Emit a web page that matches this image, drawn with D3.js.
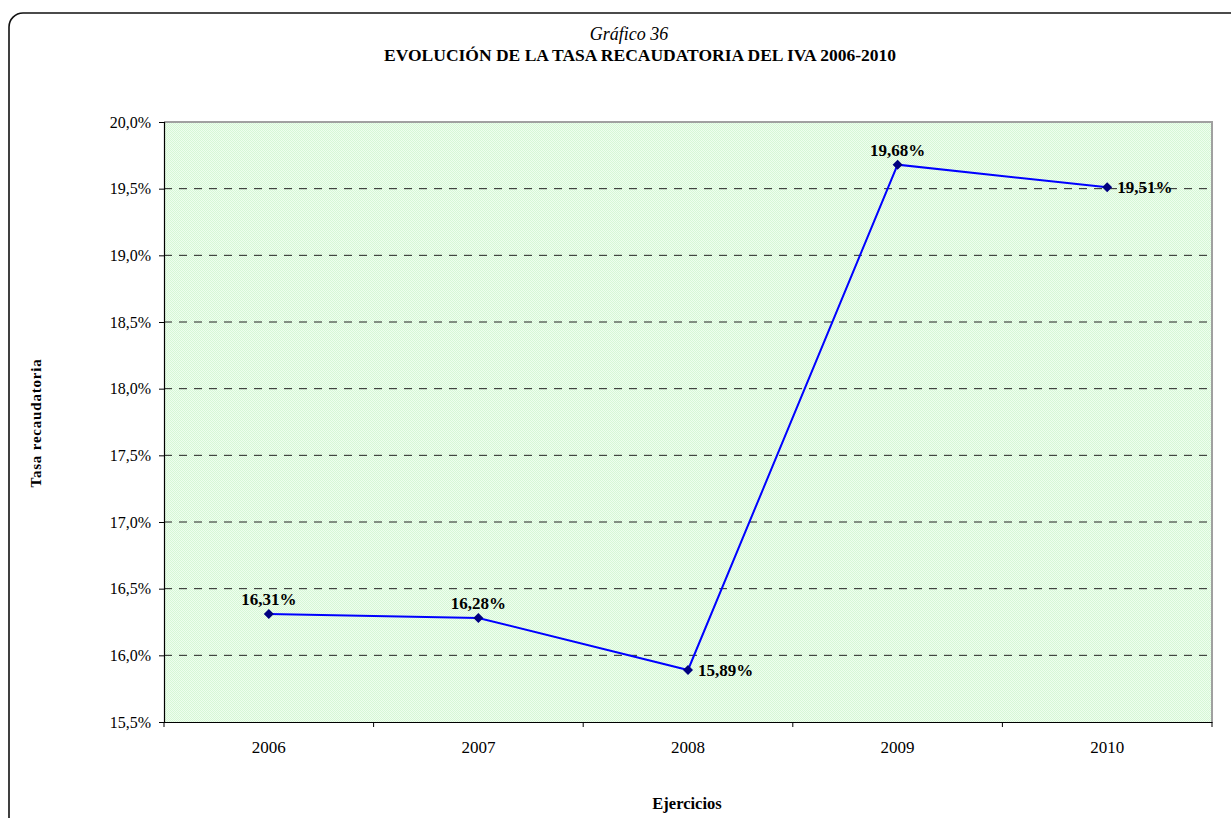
<!DOCTYPE html>
<html>
<head>
<meta charset="utf-8">
<script src="https://cdn.jsdelivr.net/npm/d3@7"></script>
<style>
  html, body { margin: 0; padding: 0; background: #fff; }
  svg { display: block; }
</style>
</head>
<body>
<svg id="chart" width="1231" height="818"></svg>
<script>
// Recaudación del IVA: tasa recaudatoria por ejercicio
const years = ["2006", "2007", "2008", "2009", "2010"];
const rates = [16.31, 16.28, 15.89, 19.68, 19.51];
const labelPlacement = ["above", "above", "right", "above", "right"];
const yTicks = [15.5, 16.0, 16.5, 17.0, 17.5, 18.0, 18.5, 19.0, 19.5, 20.0];

const svg = d3.select("#chart");
const font = "'Liberation Serif', 'Times New Roman', serif";

// Marco exterior redondeado
svg.append("rect")
  .attr("x", 9).attr("y", 13)
  .attr("width", 1250).attr("height", 840)
  .attr("rx", 14).attr("ry", 14)
  .attr("fill", "none").attr("stroke", "#111").attr("stroke-width", 1.6);

const plot = { left: 164, right: 1212, top: 122, bottom: 722 };

const x = d3.scaleBand().domain(years).range([plot.left, plot.right]).padding(0);
const y = d3.scaleLinear().domain([15.5, 20.0]).range([plot.bottom, plot.top]);

// Trama del área de trazado
const defs = svg.append("defs");
const pat = defs.append("pattern")
  .attr("id", "hatch").attr("width", 2).attr("height", 2)
  .attr("patternUnits", "userSpaceOnUse");
pat.append("rect").attr("width", 2).attr("height", 2).attr("fill", "#eefeee");
pat.append("rect").attr("width", 1).attr("height", 1).attr("fill", "#d6f7d6");
pat.append("rect").attr("x", 1).attr("y", 1).attr("width", 1).attr("height", 1).attr("fill", "#d6f7d6");

svg.append("rect")
  .attr("x", plot.left).attr("y", plot.top)
  .attr("width", plot.right - plot.left).attr("height", plot.bottom - plot.top)
  .attr("fill", "url(#hatch)");

// Bordes grises superior y derecho
svg.append("path")
  .attr("d", `M${plot.left},${plot.top}H${plot.right}V${plot.bottom}`)
  .attr("fill", "none").attr("stroke", "#a0a0a0").attr("stroke-width", 2);

// Líneas de división discontinuas
svg.append("g").selectAll("line")
  .data(yTicks.filter(t => t > 15.5 && t < 20.0))
  .join("line")
  .attr("x1", plot.left).attr("x2", plot.right)
  .attr("y1", d => y(d)).attr("y2", d => y(d))
  .attr("stroke", "#222").attr("stroke-width", 1)
  .attr("stroke-dasharray", "8,7");

// Eje Y
const fmtY = d => d.toFixed(1).replace(".", ",") + "%";
const yAxis = svg.append("g")
  .attr("transform", `translate(${plot.left},0)`)
  .call(d3.axisLeft(y).tickValues(yTicks).tickFormat(fmtY).tickSize(5).tickPadding(8));
yAxis.select(".domain").attr("stroke", "#000").attr("stroke-width", 1.2);
yAxis.selectAll(".tick line").attr("stroke", "#000");
yAxis.selectAll("text").attr("font-family", font).attr("font-size", 16).attr("fill", "#000");

// Eje X
const xAxis = svg.append("g")
  .attr("transform", `translate(0,${plot.bottom})`)
  .call(d3.axisBottom(x).tickSize(0).tickPadding(19));
xAxis.select(".domain").attr("stroke", "#000").attr("stroke-width", 1.2);
xAxis.selectAll("text").attr("font-family", font).attr("font-size", 17).attr("fill", "#000");
// Marcas entre categorías
xAxis.append("g").selectAll("line")
  .data(years.map(d => x(d)).concat([x(years[years.length - 1]) + x.bandwidth()]))
  .join("line")
  .attr("x1", d => d).attr("x2", d => d)
  .attr("y1", 0).attr("y2", 5)
  .attr("stroke", "#000").attr("stroke-width", 1);

// Serie
const cx = d => x(d) + x.bandwidth() / 2;
const line = d3.line().x((d, i) => cx(years[i])).y(d => y(d));
svg.append("path")
  .datum(rates)
  .attr("d", line)
  .attr("fill", "none").attr("stroke", "#0000ff").attr("stroke-width", 2);

const diamond = d3.symbol().type(d3.symbolSquare).size(50);
svg.append("g").selectAll("path")
  .data(rates)
  .join("path")
  .attr("d", diamond)
  .attr("transform", (d, i) => `translate(${cx(years[i])},${y(d)}) rotate(45)`)
  .attr("fill", "#000080");

// Etiquetas de datos
const fmtV = v => v.toFixed(2).replace(".", ",") + "%";
svg.append("g").selectAll("text")
  .data(rates)
  .join("text")
  .attr("x", (d, i) => labelPlacement[i] === "above" ? cx(years[i]) : cx(years[i]) + 10)
  .attr("y", (d, i) => labelPlacement[i] === "above" ? y(d) - 9 : y(d) + 6)
  .attr("text-anchor", (d, i) => labelPlacement[i] === "above" ? "middle" : "start")
  .attr("font-family", font).attr("font-size", 17).attr("font-weight", "bold")
  .attr("fill", "#000")
  .text(fmtV);

// Títulos
svg.append("text")
  .attr("x", 629).attr("y", 40)
  .attr("text-anchor", "middle")
  .attr("font-family", font).attr("font-size", 18).attr("font-style", "italic")
  .text("Gráfico 36");
svg.append("text")
  .attr("x", 640).attr("y", 61)
  .attr("text-anchor", "middle")
  .attr("font-family", font).attr("font-size", 17.5).attr("font-weight", "bold")
  .text("EVOLUCIÓN DE LA TASA RECAUDATORIA DEL IVA 2006-2010");

svg.append("text")
  .attr("transform", "translate(41,423) rotate(-90)")
  .attr("text-anchor", "middle")
  .attr("font-family", font).attr("font-size", 15).attr("font-weight", "bold")
  .attr("letter-spacing", 0.8)
  .text("Tasa recaudatoria");

svg.append("text")
  .attr("x", 687).attr("y", 809)
  .attr("text-anchor", "middle")
  .attr("font-family", font).attr("font-size", 16.5).attr("font-weight", "bold")
  .text("Ejercicios");
</script>
</body>
</html>
